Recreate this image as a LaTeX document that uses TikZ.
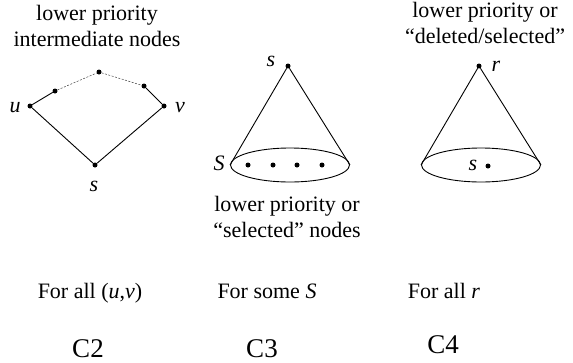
\documentclass[tikz,border=0pt]{standalone}
\usepackage{fontspec}
\setmainfont{Liberation Serif}
\usetikzlibrary{shapes.geometric}
\begin{document}
\begin{tikzpicture}[x=1pt,y=-1pt,
    dot/.style={circle, fill=black, inner sep=0pt, minimum size=5pt},
    vlabel/.style={font=\fontsize{22}{26}\selectfont\itshape, inner sep=0pt},
    note/.style={align=center, font=\fontsize{22}{26}\selectfont, inner sep=0pt},
    caption/.style={font=\fontsize{27}{30}\selectfont, inner sep=0pt},
    edge/.style={line width=0.9pt},
    faint/.style={line width=0.5pt, dash pattern=on 2pt off 1.5pt, black!75},
    base/.style={ellipse, draw, line width=0.9pt, minimum width=119pt,
                 minimum height=34pt, inner sep=0pt}
]
\useasboundingbox (0,0) rectangle (573,362);

% C2: path between u and v
\node[note, anchor=base] (c2note) at (97,46) {lower priority\\intermediate nodes};
\node[dot] (u)   at (30,106) {};
\node[dot] (ua)  at (55,91) {};
\node[dot] (top) at (99,72) {};
\node[dot] (vb)  at (144,86) {};
\node[dot] (v)   at (164,106) {};
\node[dot] (s1)  at (95,165) {};
\node[vlabel] (ulab) at (15,108) {u};
\node[vlabel] (vlab) at (180,108) {v};
\node[vlabel] (slab1) at (94,186) {s};

\draw[edge] (u) -- (ua);
\draw[faint] (ua) -- (top) -- (vb);
\draw[edge] (vb) -- (v);
\draw[edge] (u) -- (s1) -- (v);

% C3: cone from s down to S
\node[dot] (s2) at (288,66) {};
\node[vlabel] (slab2) at (271,61) {s};
\node[base] (set) at (290,165) {};
\node[vlabel] (setlab) at (219,163) {S};
\foreach \x [count=\i] in {248,273,297,322}
    \node[dot] (m\i) at (\x,165) {};
\draw[edge] (set.west) -- (s2) -- (set.east);
\node[note, anchor=base] (c3note) at (287,237) {lower priority or\\“selected” nodes};

% C4: cone from r
\node[note, anchor=base] (c4note) at (485,43) {lower priority or\\“deleted/selected”};
\node[dot] (r) at (479,66) {};
\node[vlabel] (rlab) at (496,66) {r};
\node[base] (cnt) at (481,165) {};
\node[dot] (s3) at (488,166) {};
\node[vlabel] (slab3) at (473,165) {s};
\draw[edge] (cnt.west) -- (r) -- (cnt.east);

% conditions
\node[note, anchor=base] (f2) at (90,298) {For all (\textit{u},\textit{v})};
\node[note, anchor=base] (f3) at (267,298) {For some \textit{S}};
\node[note, anchor=base] (f4) at (444,298) {For all \textit{r}};
\node[caption, anchor=base] (n2) at (88,357) {C2};
\node[caption, anchor=base] (n3) at (262,357) {C3};
\node[caption, anchor=base] (n4) at (443,353) {C4};
\end{tikzpicture}
\end{document}
